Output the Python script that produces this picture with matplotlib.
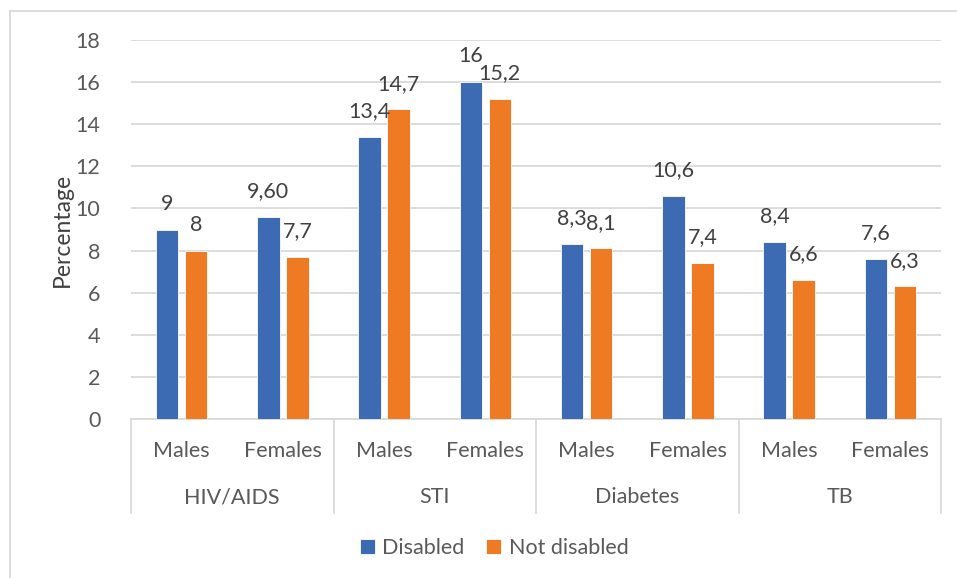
import matplotlib
matplotlib.use("Agg")
import matplotlib.pyplot as plt
from matplotlib.patches import Rectangle

groups = ["HIV/AIDS", "STI", "Diabetes", "TB"]
sexes = ["Males", "Females"]
disabled = [9, 9.6, 13.4, 16, 8.3, 10.6, 8.4, 7.6]
not_disabled = [8, 7.7, 14.7, 15.2, 8.1, 7.4, 6.6, 6.3]
disabled_labels = ["9", "9,60", "13,4", "16", "8,3", "10,6", "8,4", "7,6"]
not_disabled_labels = ["8", "7,7", "14,7", "15,2", "8,1", "7,4", "6,6", "6,3"]
series_names = ["Disabled", "Not disabled"]

BLUE = "#3C6BB4"
ORANGE = "#EE7B24"
GRID = "#D9D9D9"
TICK = "#595959"
LABEL = "#404040"
FS = 15.5

plt.rcParams["font.family"] = ["Lato", "DejaVu Sans"]

W, H = 957, 578
fig = plt.figure(figsize=(W / 100, H / 100), dpi=100)

# outer chart frame
fig.patches.append(Rectangle((10 / W, -0.1), 1.2, (H - 11) / H + 0.1,
                             transform=fig.transFigure, fill=False,
                             edgecolor=GRID, linewidth=1.3))

left, right, top, bottom = 131, 941, 40, 419
ax = fig.add_axes([left / W, (H - bottom) / H, (right - left) / W, (bottom - top) / H])

n = len(disabled)
xs = list(range(n))
bw = 0.224
off = 0.143
b1 = ax.bar([x - off for x in xs], disabled, width=bw, color=BLUE,
            edgecolor="white", linewidth=0.6, label=series_names[0], zorder=3)
b2 = ax.bar([x + off for x in xs], not_disabled, width=bw, color=ORANGE,
            edgecolor="white", linewidth=0.6, label=series_names[1], zorder=3)

for bars, labs in ((b1, disabled_labels), (b2, not_disabled_labels)):
    for r, t in zip(bars, labs):
        ax.annotate(t, (r.get_x() + r.get_width() / 2, r.get_height()),
                    xytext=(0, 18.5), textcoords="offset points",
                    ha="center", va="center", fontsize=FS, color=LABEL)

ax.set_xlim(-0.5, n - 0.5)
ax.set_ylim(0, 18)
ax.set_yticks(range(0, 19, 2))
ax.tick_params(axis="y", length=0, pad=22, labelsize=FS, labelcolor=TICK)
ax.set_xticks([])
ax.grid(axis="y", color=GRID, linewidth=1.3, zorder=0)
for s in ("left", "right", "top"):
    ax.spines[s].set_visible(False)
ax.spines["bottom"].set_color(GRID)
ax.spines["bottom"].set_linewidth(1.3)
ax.set_ylabel("Percentage", fontsize=FS + 1, color=LABEL, labelpad=2)

# two-level category axis
ph = bottom - top
def yax(px):
    return -(px - bottom) / ph

trans = ax.get_xaxis_transform()
for i, x in enumerate(xs):
    ax.text(x, yax(451), sexes[i % 2], transform=trans, ha="center", va="center",
            fontsize=FS, color=TICK)
for g, name in enumerate(groups):
    ax.text(2 * g + 0.5, yax(497), name, transform=trans, ha="center", va="center",
            fontsize=FS, color=TICK)
for g in range(len(groups) + 1):
    ax.plot([2 * g - 0.5, 2 * g - 0.5], [0, yax(513)], transform=trans,
            color=GRID, linewidth=1.3, clip_on=False)

fig.legend(handles=[b1, b2], labels=series_names, loc="center",
           bbox_to_anchor=(494 / W, (H - 548) / H), ncol=2, frameon=False,
           fontsize=FS, handlelength=0.7, handleheight=0.7, handletextpad=0.35,
           columnspacing=1.0, labelcolor=TICK)

fig.savefig("out.png", dpi=100)
